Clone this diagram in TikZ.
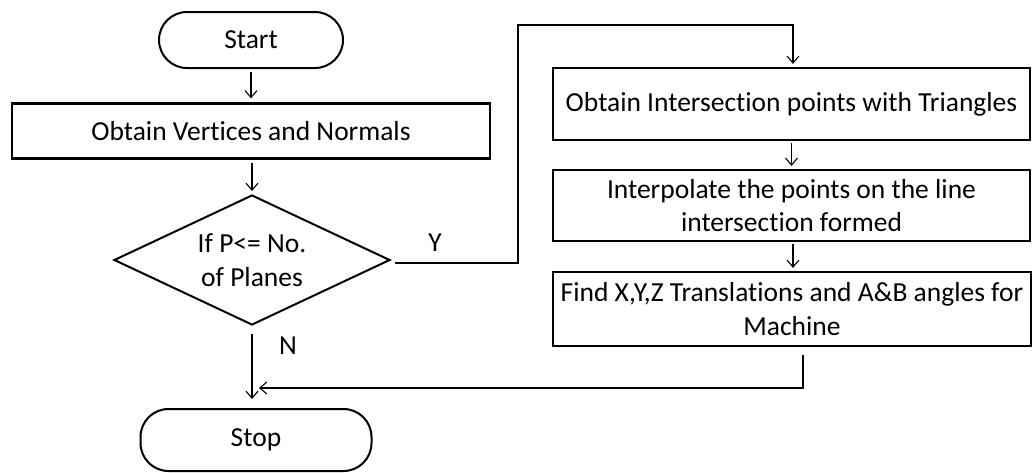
\documentclass[tikz,border=0pt]{standalone}
\usepackage{fontspec}
\setmainfont[Ligatures=NoCommon]{Carlito}
\usetikzlibrary{arrows.meta,shapes.geometric}
\begin{document}
\begin{tikzpicture}[x=1pt,y=-1pt,
  font=\fontsize{27.5}{31}\selectfont,
  box/.style={draw,line width=2.2pt,rectangle,inner sep=0pt,align=center},
  term/.style={draw,line width=2pt,rounded corners=28pt,inner sep=0pt},
  dec/.style={draw,line width=2pt,diamond,aspect=2.1,inner sep=0pt,align=center},
  conn/.style={line width=1.1pt,-{Straight Barb[length=7pt,width=12pt]}}]
\useasboundingbox (0,0) rectangle (1034,472);
\node[term,minimum width=184pt,minimum height=56pt] (start) at (251,40) {Start};
\node[box,minimum width=478pt,minimum height=55pt] (verts) at (251,131) {Obtain Vertices and Normals};
\node[dec,minimum width=276pt,minimum height=130pt] (dia) at (252,260) {If P<= No.\\[3pt]of Planes};
\node[term,minimum width=231pt,minimum height=62pt] (stop) at (256,440) {Stop};
\node[box,minimum width=477pt,minimum height=72pt] (b1) at (791.5,104) {Obtain Intersection points with Triangles};
\node[box,minimum width=477pt,minimum height=71pt] (b2) at (791.5,205.5) {Interpolate the points on the line\\[2pt]intersection formed};
\node[box,minimum width=478pt,minimum height=74pt] (b3) at (792,309) {Find X,Y,Z Translations and A\&B angles for\\[3pt]Machine};
\node (ylab) at (435,243) {Y};
\node (nlab) at (288,346) {N};
\coordinate (dR) at (395,263);
\coordinate (dB) at (252,334);
\coordinate (ya) at (518,263);
\coordinate (yb) at (518,25);
\coordinate (yc) at (793,25);
\coordinate (nEnd) at (252,399);
\coordinate (r1) at (803,355);
\coordinate (r2) at (803,388);
\coordinate (r3) at (259,388);
\draw[conn] ([yshift=-3pt]start.south) -- ([yshift=4pt]verts.north);
\draw[conn] ([yshift=-3pt]verts.south -| dia.north) -- ([yshift=3pt]dia.north);
\draw[conn] (dR) -- (ya) -- (yb) -- (yc) -- ([yshift=3pt]b1.north -| yc);
\draw[conn] ([yshift=-2pt]b1.south) -- ([yshift=3pt]b2.north);
\draw[conn] ([yshift=-2pt]b2.south -| 793,0) -- ([yshift=3pt]b3.north -| 793,0);
\draw[conn] (dB) -- (nEnd);
\draw[conn] (r1) -- (r2) -- (r3);
\end{tikzpicture}
\end{document}
